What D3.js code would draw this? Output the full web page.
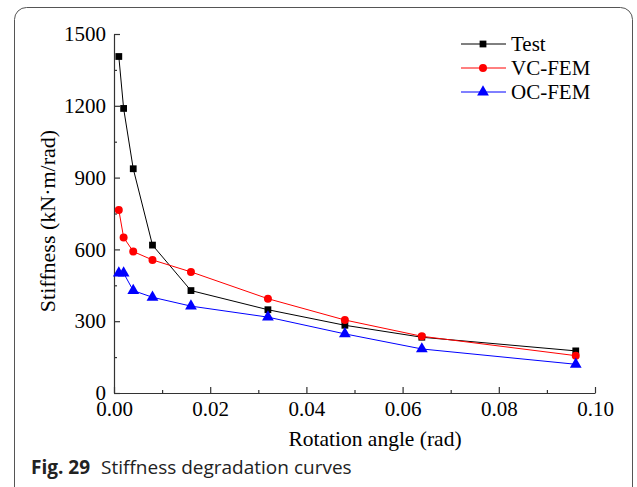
<!DOCTYPE html>
<html>
<head>
<meta charset="utf-8">
<script src="https://cdn.jsdelivr.net/npm/d3@7"></script>
<style>
  body { margin: 0; background: #fff; }
  svg text { font-family: "Liberation Serif", "Times New Roman", serif; }
</style>
</head>
<body>
<div id="chart"></div>
<script>
// Rotation angles (rad) shared by every series
const angles = [0.001, 0.002, 0.004, 0.008, 0.016, 0.032, 0.048, 0.064, 0.096];

// Stiffness values (kN·m/rad)
const testValues = [1406, 1189, 937, 618, 428, 348, 283, 233, 176];
const vcValues = [765, 650, 591, 556, 506, 394, 305, 237, 156];
const ocValues = [501, 501, 428, 400, 363, 317, 247, 184, 120];

const seriesNames = ["Test", "VC-FEM", "OC-FEM"];
const seriesColors = ["#000000", "#ff0000", "#0000ff"];
const seriesShapes = [d3.symbolSquare, d3.symbolCircle, d3.symbolTriangle];
const seriesSizes = [46, 50, 60];

const xTicks = [0, 0.02, 0.04, 0.06, 0.08, 0.10];
const yTicks = [0, 300, 600, 900, 1200, 1500];

const W = 637, H = 487;

const svg = d3.select("#chart").append("svg")
    .attr("width", W)
    .attr("height", H);

// rounded figure frame
svg.append("rect")
    .attr("x", 14.5).attr("y", 7.5)
    .attr("width", 618).attr("height", 520)
    .attr("rx", 12)
    .attr("fill", "none")
    .attr("stroke", "#555")
    .attr("stroke-width", 1);

// scales
const x = d3.scaleLinear().domain([0, 0.1]).range([114, 595]);
const y = d3.scaleLinear().domain([0, 1500]).range([393, 34]);

// x axis (ticks pointing inward)
svg.append("g")
    .attr("transform", "translate(0,393)")
    .call(d3.axisBottom(x).tickValues(xTicks).tickFormat(d3.format(".2f"))
        .tickSize(-6).tickSizeOuter(0).tickPadding(8));
svg.append("g")
    .attr("transform", "translate(0,393)")
    .call(d3.axisBottom(x).tickValues(d3.range(0.01, 0.1, 0.02)).tickFormat("")
        .tickSize(-3).tickSizeOuter(0))
    .select(".domain").remove();

// y axis
svg.append("g")
    .attr("transform", "translate(114,0)")
    .call(d3.axisLeft(y).tickValues(yTicks).tickFormat(d3.format("d"))
        .tickSize(-6).tickSizeOuter(0).tickPadding(8));
svg.append("g")
    .attr("transform", "translate(114,0)")
    .call(d3.axisLeft(y).tickValues(d3.range(150, 1500, 300)).tickFormat("")
        .tickSize(-3).tickSizeOuter(0))
    .select(".domain").remove();

svg.selectAll(".tick text")
    .style("font-family", "'Liberation Serif', serif")
    .style("font-size", "21px")
    .attr("fill", "#000");
svg.selectAll(".domain, .tick line").attr("stroke", "#333").attr("stroke-width", 1.2);

// axis titles
svg.append("text")
    .attr("x", 375).attr("y", 446)
    .attr("text-anchor", "middle")
    .style("font-size", "21.5px")
    .text("Rotation angle (rad)");

svg.append("text")
    .attr("transform", "translate(55,221) rotate(-90)")
    .attr("text-anchor", "middle")
    .style("font-size", "22px")
    .text("Stiffness (kN·m/rad)");

// series
const allValues = [testValues, vcValues, ocValues];
const line = d3.line()
    .x(function (d) { return x(d[0]); })
    .y(function (d) { return y(d[1]); });

allValues.forEach(function (vals, i) {
    const pts = angles.map(function (a, j) { return [a, vals[j]]; });
    svg.append("path")
        .datum(pts)
        .attr("d", line)
        .attr("fill", "none")
        .attr("stroke", seriesColors[i])
        .attr("stroke-width", 1);
    svg.selectAll(".m" + i)
        .data(pts)
        .join("path")
        .attr("class", "m" + i)
        .attr("transform", function (d) { return `translate(${x(d[0])},${y(d[1])})`; })
        .attr("d", d3.symbol().type(seriesShapes[i]).size(seriesSizes[i]))
        .attr("fill", seriesColors[i]);
});

// legend
const legend = svg.append("g");
seriesNames.forEach(function (name, i) {
    const ly = 44 + i * 24;
    legend.append("line")
        .attr("x1", 461).attr("x2", 506)
        .attr("y1", ly).attr("y2", ly)
        .attr("stroke", seriesColors[i])
        .attr("stroke-width", 1);
    legend.append("path")
        .attr("transform", `translate(483,${ly})`)
        .attr("d", d3.symbol().type(seriesShapes[i]).size(seriesSizes[i]))
        .attr("fill", seriesColors[i]);
    legend.append("text")
        .attr("x", 511).attr("y", ly + 7)
        .style("font-size", "21px")
        .text(name);
});

// caption
const cap = svg.append("text")
    .attr("x", 31).attr("y", 474)
    .style("font-family", "'Open Sans', 'Noto Sans', sans-serif")
    .style("font-size", "19px")
    .attr("fill", "#222");
cap.append("tspan").style("font-weight", "bold").text("Fig. 29");
cap.append("tspan").attr("dx", 11).text("Stiffness degradation curves");
</script>
</body>
</html>
